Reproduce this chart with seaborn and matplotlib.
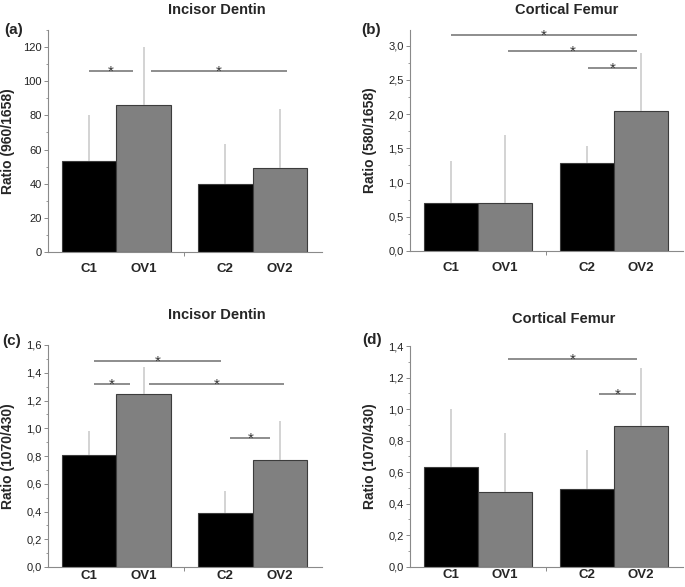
import numpy as np
import pandas as pd
import matplotlib
matplotlib.use("Agg")
import matplotlib.pyplot as plt
from matplotlib.ticker import FuncFormatter, MultipleLocator
import seaborn as sns

# Data (bar = mean, whisker = upper SD)
groups = ["C1", "OV1", "C2", "OV2"]
xpos = [0, 1, 2.5, 3.5]

a_mean = [53, 86, 40, 49]
a_sd = [27, 34, 23, 35]
b_mean = [0.70, 0.70, 1.29, 2.04]
b_sd = [0.62, 0.99, 0.25, 0.86]
c_mean = [0.81, 1.25, 0.39, 0.77]
c_sd = [0.17, 0.19, 0.155, 0.28]
d_mean = [0.63, 0.475, 0.49, 0.89]
d_sd = [0.37, 0.375, 0.25, 0.37]

# significance bars: (start, end, height)
a_sig = [(0.0, 0.81, 106), (1.14, 3.63, 106)]
b_sig = [(0.0, 3.43, 3.16), (1.05, 3.43, 2.93), (2.53, 3.43, 2.68)]
c_sig = [(0.09, 2.42, 1.487), (0.09, 0.75, 1.32), (1.1, 3.58, 1.32), (2.59, 3.32, 0.927)]
d_sig = [(1.05, 3.43, 1.32), (2.73, 3.41, 1.094)]

sns.set_style("ticks")
plt.rcParams['font.family'] = ['Liberation Sans', 'DejaVu Sans']

W, H = 685, 587
fig = plt.figure(figsize=(W / 100, H / 100), dpi=100)

palette = {"C1": "#000000", "OV1": "#808080", "C2": "#000000", "OV2": "#808080"}
axis_grey = "#8a8a8a"


def comma(v, pos):
    return f"{v:.1f}".replace(".", ",")


def panel(rect, mean, sd, sig, ylim, major, minor, ylabel, fmt, xpad):
    left, top, right, bottom = rect
    ax = fig.add_axes([left / W, 1 - bottom / H, (right - left) / W, (bottom - top) / H])
    df = pd.DataFrame({"x": xpos, "group": groups, "mean": mean})
    sns.barplot(data=df, x="x", y="mean", hue="group", palette=palette,
                native_scale=True, width=1, dodge=False, legend=False,
                errorbar=None, edgecolor="#3c3c3c", linewidth=0.8, ax=ax)
    # upper whisker only, drawn from the bar top
    ax.errorbar(xpos, np.array(mean) + np.array(sd) / 2, yerr=np.array(sd) / 2, fmt="none",
                ecolor="#c8c8c8", elinewidth=1.1, capsize=0, zorder=1)
    for x0, x1, y in sig:
        ax.plot([x0, x1], [y, y], color="#7a7a7a", lw=1.2, solid_capstyle="butt", clip_on=False)
        ax.annotate("*", ((x0 + x1) / 2, y), xytext=(0, -3.5), textcoords="offset points",
                    ha="center", va="baseline", fontsize=11, color="#333333")
    ax.set_xlim(-0.75, 4.27)
    ax.set_ylim(*ylim)
    ax.set_xticks(xpos, groups)
    ax.set_xticks([1.75], minor=True)
    ax.yaxis.set_major_locator(MultipleLocator(major))
    ax.yaxis.set_minor_locator(MultipleLocator(minor))
    if fmt:
        ax.yaxis.set_major_formatter(FuncFormatter(comma))
    sns.despine(ax=ax)
    for s in ("left", "bottom"):
        ax.spines[s].set_color(axis_grey)
        ax.spines[s].set_linewidth(0.8)
    ax.tick_params(axis="y", which="major", length=3, width=0.7, color=axis_grey,
                   labelsize=8, labelcolor="#222222", pad=1.5)
    ax.tick_params(axis="y", which="minor", length=1.8, width=0.6, color=axis_grey)
    ax.tick_params(axis="x", which="major", length=0, labelsize=9.5, pad=xpad)
    ax.tick_params(axis="x", which="minor", length=3, width=0.7, color=axis_grey)
    for t in ax.get_xticklabels():
        t.set_fontweight("bold")
    ax.set_xlabel("")
    ax.set_ylabel(ylabel, fontsize=10, fontweight="bold", va="center")
    ax.yaxis.set_label_coords(-0.145, 0.5)
    return ax


panel((48, 30, 322, 252), a_mean, a_sd, a_sig, (0, 130), 20, 10,
      "Ratio (960/1658)", False, 8)
panel((410, 30, 683, 251), b_mean, b_sd, b_sig, (0, 3.23), 0.5, 0.25,
      "Ratio (580/1658)", True, 8)
panel((48, 345, 322, 567), c_mean, c_sd, c_sig, (0, 1.6), 0.2, 0.1,
      "Ratio (1070/430)", True, 2)
panel((410, 346, 683, 566.7), d_mean, d_sd, d_sig, (0, 1.4), 0.2, 0.1,
      "Ratio (1070/430)", True, 2)

# titles and panel letters
for x, y, s in [(217, 10, "Incisor Dentin"), (567, 10, "Cortical Femur"),
                (217, 315, "Incisor Dentin"), (564, 319, "Cortical Femur")]:
    fig.text(x / W, 1 - y / H, s, ha="center", va="center", fontsize=10.5, fontweight="bold")
for x, y, s in [(14, 30, "(a)"), (371, 30, "(b)"), (12, 341, "(c)"), (372, 340, "(d)")]:
    fig.text(x / W, 1 - y / H, s, ha="center", va="center", fontsize=11, fontweight="bold")

fig.savefig("out.png", dpi=100)
